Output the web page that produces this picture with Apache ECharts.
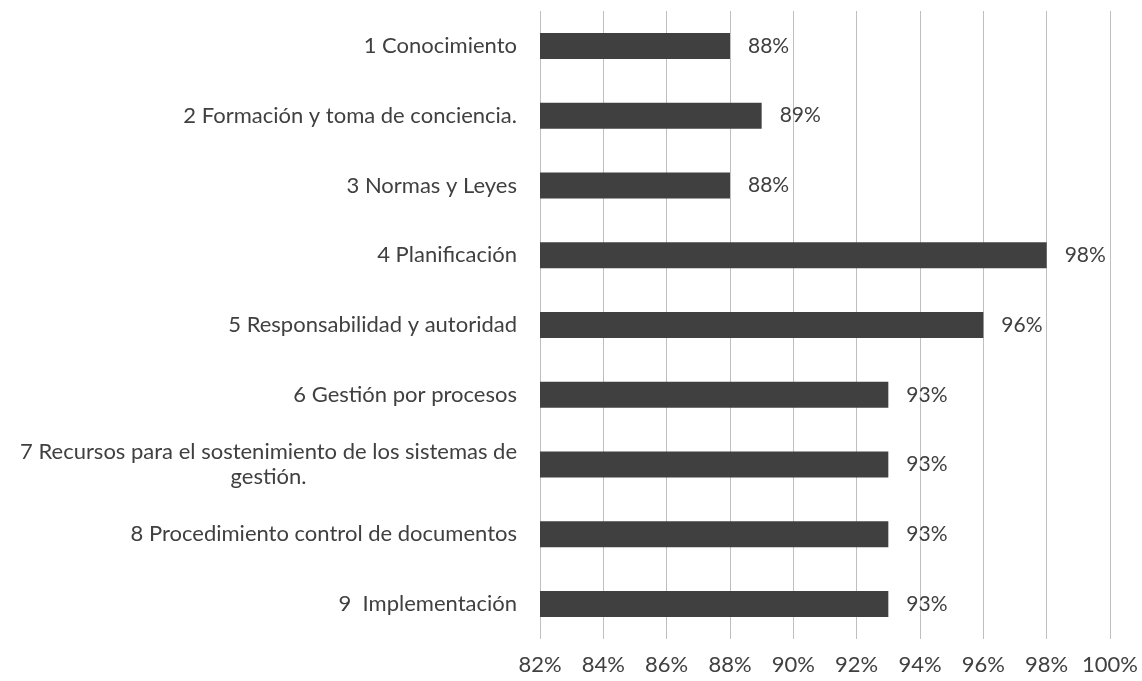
<!DOCTYPE html>
<html>
<head>
<meta charset="utf-8">
<script src="https://cdn.jsdelivr.net/npm/echarts@6/dist/echarts.min.js"></script>
<style>html,body{margin:0;padding:0;background:#fff;}#c{width:1142px;height:681px;}</style>
</head>
<body>
<div id="c"></div>
<script>
var categories = [
  "1 Conocimiento",
  "2 Formación y toma de conciencia.",
  "3 Normas y Leyes",
  "4 Planificación",
  "5 Responsabilidad y autoridad",
  "6 Gestión por procesos",
  "7 Recursos para el sostenimiento de los sistemas de\ngestión.",
  "8 Procedimiento control de documentos",
  "9  Implementación"
];
var values = [88, 89, 88, 98, 96, 93, 93, 93, 93];
var xMin = 82, xMax = 100, xStep = 2;

var chart = echarts.init(document.getElementById('c'));
var font = 'Lato, "Open Sans", sans-serif';
chart.setOption({
  animation: false,
  backgroundColor: '#fff',
  grid: { left: 540, right: 32, top: 11, bottom: 42, containLabel: false },
  xAxis: {
    type: 'value', min: xMin, max: xMax, interval: xStep,
    axisLine: { show: false }, axisTick: { show: false },
    splitLine: { show: true, lineStyle: { color: '#bfbfbf', width: 1 } },
    axisLabel: { formatter: '{value}%', color: '#404040', fontSize: 22, fontFamily: font, margin: 15 }
  },
  yAxis: {
    type: 'category', inverse: true, data: categories,
    axisLine: { show: false }, axisTick: { show: false },
    axisLabel: {
      color: '#404040', fontSize: 22, fontFamily: font, margin: 23, lineHeight: 25,
      formatter: function (v) {
        return v.split('\n').map(function (s) { return '{c|' + s + '}'; }).join('\n');
      },
      rich: { c: { align: 'center', color: '#404040', fontSize: 22, fontFamily: font, lineHeight: 25 } }
    }
  },
  series: [{
    type: 'bar', data: values, barWidth: 26,
    itemStyle: { color: '#404040' },
    label: { show: true, position: 'right', distance: 18, formatter: '{c}%', color: '#404040', fontSize: 21, fontFamily: font }
  }]
});
</script>
</body>
</html>
